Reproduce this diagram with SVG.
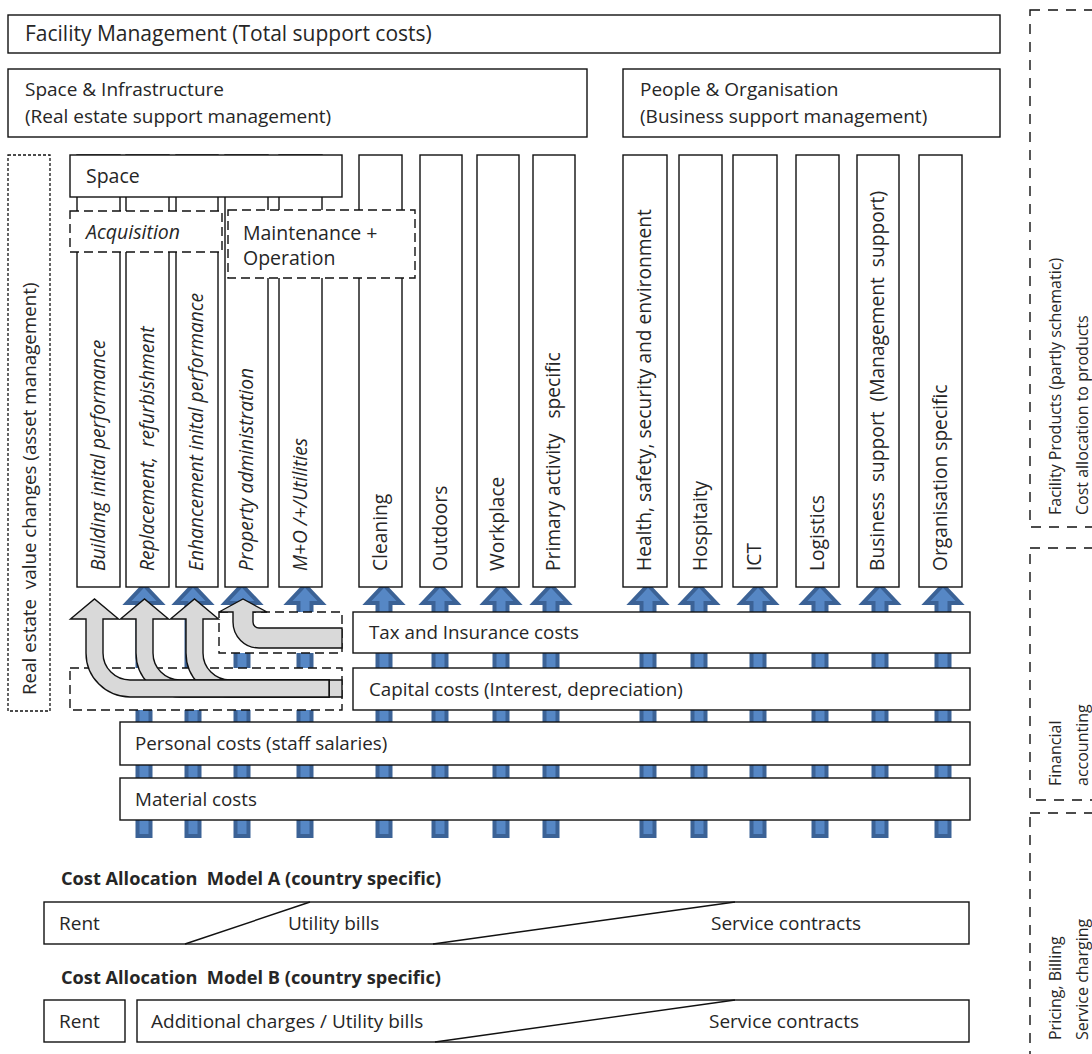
<svg xmlns="http://www.w3.org/2000/svg" width="1092" height="1054" viewBox="0 0 1092 1054">
  <defs>
    <style>
      text { font-family: "Open Sans", "Liberation Sans", sans-serif; fill: #262626; white-space: pre; }
      .box { fill: #fff; stroke: #111; stroke-width: 1.4; }
      .dash { fill: #fff; stroke: #111; stroke-width: 1.4; stroke-dasharray: 9 5; }
      .fine { fill: #fff; stroke: #111; stroke-width: 1.3; stroke-dasharray: 3 2; }
      .side { fill: none; stroke: #111; stroke-width: 1.4; stroke-dasharray: 10 8; }
      .blue { fill: #5687C5; stroke: #3B6296; stroke-width: 4; stroke-linejoin: miter; }
      .grey { fill: #D9D9D9; stroke: #111; stroke-width: 1.4; stroke-linejoin: miter; }
      .line { stroke: #111; stroke-width: 1.4; fill: none; }
      .top { font-size: 21px; }
      .t20 { font-size: 19px; }
      .t18 { font-size: 18.8px; }
      .lbl { font-size: 19.5px; }
      .col { font-size: 19.2px; }
      .it { font-style: italic; }
      .side-t { font-size: 16px; }
      .bold { font-size: 18.2px; font-weight: bold; }
      .bot { font-size: 19px; }
    </style>
  </defs>

  <!-- headline boxes -->
  <g id="facility-management">
    <rect class="box" x="8" y="15" width="992" height="38"/>
    <text class="top" x="25" y="41">Facility Management (Total support costs)</text>
  </g>
  <g id="space-infrastructure">
    <rect class="box" x="8" y="69" width="579" height="68"/>
    <text class="t20" x="25" y="96">Space &amp; Infrastructure</text>
    <text class="t20" x="25" y="123">(Real estate support management)</text>
  </g>
  <g id="people-organisation">
    <rect class="box" x="623" y="69" width="377" height="68"/>
    <text class="t20" x="640" y="96">People &amp; Organisation</text>
    <text class="t20" x="640" y="123">(Business support management)</text>
  </g>

  <!-- asset management side box -->
  <g id="real-estate-value">
    <rect class="fine" x="8" y="155" width="42" height="556"/>
    <text class="t18" transform="translate(36,695) rotate(-90)">Real estate  value changes (asset management)</text>
  </g>

  <!-- blue flow arrows (behind the cost boxes) -->
  <g id="connectors">
    <g id="blue-arrows">
      <path class="blue" d="M144 585 L161 603 L150.5 603 L150.5 836 L137.5 836 L137.5 603 L127 603 Z"/>
      <path class="blue" d="M193 585 L210 603 L199.5 603 L199.5 836 L186.5 836 L186.5 603 L176 603 Z"/>
      <path class="blue" d="M242 585 L259 603 L248.5 603 L248.5 836 L235.5 836 L235.5 603 L225 603 Z"/>
      <path class="blue" d="M305 585 L322 603 L311.5 603 L311.5 836 L298.5 836 L298.5 603 L288 603 Z"/>
      <path class="blue" d="M384 585 L401 603 L390.5 603 L390.5 836 L377.5 836 L377.5 603 L367 603 Z"/>
      <path class="blue" d="M440 585 L457 603 L446.5 603 L446.5 836 L433.5 836 L433.5 603 L423 603 Z"/>
      <path class="blue" d="M501 585 L518 603 L507.5 603 L507.5 836 L494.5 836 L494.5 603 L484 603 Z"/>
      <path class="blue" d="M551 585 L568 603 L557.5 603 L557.5 836 L544.5 836 L544.5 603 L534 603 Z"/>
      <path class="blue" d="M648 585 L665 603 L654.5 603 L654.5 836 L641.5 836 L641.5 603 L631 603 Z"/>
      <path class="blue" d="M699 585 L716 603 L705.5 603 L705.5 836 L692.5 836 L692.5 603 L682 603 Z"/>
      <path class="blue" d="M758 585 L775 603 L764.5 603 L764.5 836 L751.5 836 L751.5 603 L741 603 Z"/>
      <path class="blue" d="M820 585 L837 603 L826.5 603 L826.5 836 L813.5 836 L813.5 603 L803 603 Z"/>
      <path class="blue" d="M880 585 L897 603 L886.5 603 L886.5 836 L873.5 836 L873.5 603 L863 603 Z"/>
      <path class="blue" d="M943 585 L960 603 L949.5 603 L949.5 836 L936.5 836 L936.5 603 L926 603 Z"/>
    </g>
  </g>

  <!-- cost layers -->
  <g id="tax-insurance">
    <rect class="box" x="353" y="612" width="617" height="41"/>
    <text class="t18" x="369" y="639">Tax and Insurance costs</text>
  </g>
  <g id="capital-costs">
    <rect class="box" x="353" y="668" width="617" height="42"/>
    <text class="t18" x="369" y="696">Capital costs (Interest, depreciation)</text>
  </g>
  <g id="personal-costs">
    <rect class="box" x="120" y="722" width="850" height="43"/>
    <text class="t18" x="135" y="750">Personal costs (staff salaries)</text>
  </g>
  <g id="material-costs">
    <rect class="box" x="120" y="778" width="850" height="42"/>
    <text class="t18" x="135" y="806">Material costs</text>
  </g>

  <!-- dashed frames on the left of the cost layers -->
  <g id="tax-frame"><rect class="dash" x="219" y="612" width="123" height="41"/></g>
  <g id="capital-frame"><rect class="dash" x="70" y="668" width="272" height="42"/></g>

  <!-- grey bent arrows from capital and tax costs -->
  <g id="grey-arrows">
    <path class="grey" d="M329 680 L342 680 L342 697 L329 697"/>
    <path class="grey" d="M186 619 L186 653 A44 44 0 0 0 230 697 L329 697 L329 680 L230 680 A27 27 0 0 1 203 653 L203 619 L218.5 619 L194.5 599 L170.5 619 Z"/>
    <path class="grey" d="M136 619 L136 653 A44 44 0 0 0 180 697 L329 697 L329 680 L180 680 A27 27 0 0 1 153 653 L153 619 L168.5 619 L144.5 599 L120.5 619 Z"/>
    <path class="grey" d="M86 619 L86 653 A44 44 0 0 0 130 697 L329 697 L329 680 L130 680 A27 27 0 0 1 103 653 L103 619 L118.5 619 L94.5 599 L70.5 619 Z"/>
    <path class="grey" d="M233 612 L233 622 A26 26 0 0 0 259 648 L342 648 L342 628 L259 628 A6 6 0 0 1 253 622 L253 612 L267 612 L243 599 L219 612 Z"/>
  </g>

  <!-- product columns -->
  <g id="col-building">
    <rect class="box" x="77" y="155" width="43" height="432"/>
    <text class="col it" transform="translate(105,571) rotate(-90)">Building inital performance</text>
  </g>
  <g id="col-replacement">
    <rect class="box" x="126" y="155" width="43" height="432"/>
    <text class="col it" transform="translate(154,571) rotate(-90)">Replacement,  refurbishment</text>
  </g>
  <g id="col-enhancement">
    <rect class="box" x="176" y="155" width="42" height="432"/>
    <text class="col it" transform="translate(203,571) rotate(-90)">Enhancement inital performance</text>
  </g>
  <g id="col-property">
    <rect class="box" x="225" y="155" width="43" height="432"/>
    <text class="col it" transform="translate(253,571) rotate(-90)">Property administration</text>
  </g>
  <g id="col-mo-utilities">
    <rect class="box" x="279" y="155" width="43" height="432"/>
    <text class="col it" transform="translate(307,571) rotate(-90)">M+O /+/Utilities</text>
  </g>
  <g id="col-cleaning">
    <rect class="box" x="359" y="155" width="43" height="432"/>
    <text class="col" transform="translate(387,571) rotate(-90)">Cleaning</text>
  </g>
  <g id="col-outdoors">
    <rect class="box" x="420" y="155" width="42" height="432"/>
    <text class="col" transform="translate(447,571) rotate(-90)">Outdoors</text>
  </g>
  <g id="col-workplace">
    <rect class="box" x="477" y="155" width="42" height="432"/>
    <text class="col" transform="translate(504,571) rotate(-90)">Workplace</text>
  </g>
  <g id="col-primary">
    <rect class="box" x="533" y="155" width="42" height="432"/>
    <text class="col" transform="translate(560,571) rotate(-90)">Primary activity   specific</text>
  </g>
  <g id="col-health">
    <rect class="box" x="623" y="155" width="44" height="432"/>
    <text class="col" transform="translate(651,571) rotate(-90)">Health, safety, security and environment</text>
  </g>
  <g id="col-hospitality">
    <rect class="box" x="679" y="155" width="43" height="432"/>
    <text class="col" transform="translate(707,571) rotate(-90)">Hospitaity</text>
  </g>
  <g id="col-ict">
    <rect class="box" x="733" y="155" width="44" height="432"/>
    <text class="col" transform="translate(761,571) rotate(-90)">ICT</text>
  </g>
  <g id="col-logistics">
    <rect class="box" x="796" y="155" width="43" height="432"/>
    <text class="col" transform="translate(824,571) rotate(-90)">Logistics</text>
  </g>
  <g id="col-business">
    <rect class="box" x="857" y="155" width="42" height="432"/>
    <text class="col" transform="translate(884,571) rotate(-90)">Business  support  (Management  support)</text>
  </g>
  <g id="col-organisation">
    <rect class="box" x="919" y="155" width="43" height="432"/>
    <text class="col" transform="translate(947,571) rotate(-90)">Organisation specific</text>
  </g>

  <!-- space header and phase frames over the columns -->
  <g id="space">
    <rect class="box" x="70" y="155" width="272" height="42"/>
    <text class="lbl" x="86" y="183">Space</text>
  </g>
  <g id="acquisition">
    <rect class="dash" x="70" y="211" width="152" height="41"/>
    <text class="lbl it" x="86" y="239">Acquisition</text>
  </g>
  <g id="maintenance-operation">
    <rect class="dash" x="228" y="210" width="187" height="68"/>
    <text class="lbl" x="243" y="240">Maintenance +</text>
    <text class="lbl" x="243" y="265">Operation</text>
  </g>

  <!-- process side frames -->
  <g id="facility-products">
    <rect class="side" x="1030" y="10" width="80" height="517"/>
    <text class="side-t" transform="translate(1061,515) rotate(-90)">Facility Products (partly schematic)</text>
    <text class="side-t" transform="translate(1088,515) rotate(-90)">Cost allocation to products</text>
  </g>
  <g id="financial-accounting">
    <rect class="side" x="1030" y="548" width="80" height="252"/>
    <text class="side-t" transform="translate(1061,786) rotate(-90)">Financial</text>
    <text class="side-t" transform="translate(1088,786) rotate(-90)">accounting</text>
  </g>
  <g id="pricing-billing">
    <rect class="side" x="1030" y="813" width="80" height="260"/>
    <text class="side-t" transform="translate(1061,1040) rotate(-90)">Pricing, Billing</text>
    <text class="side-t" transform="translate(1088,1040) rotate(-90)">Service charging</text>
  </g>

  <!-- cost allocation model A -->
  <g id="model-a">
    <text class="bold" x="61" y="885">Cost Allocation  Model A (country specific)</text>
    <rect class="box" x="44" y="902" width="925" height="42"/>
    <line class="line" x1="185" y1="944" x2="310" y2="902"/>
    <line class="line" x1="433" y1="944" x2="735" y2="902"/>
    <text class="bot" x="59" y="930">Rent</text>
    <text class="bot" x="288" y="930">Utility bills</text>
    <text class="bot" x="711" y="930">Service contracts</text>
  </g>

  <!-- cost allocation model B -->
  <g id="model-b">
    <text class="bold" x="61" y="984">Cost Allocation  Model B (country specific)</text>
    <rect class="box" x="44" y="1000" width="81" height="42"/>
    <rect class="box" x="137" y="1000" width="832" height="42"/>
    <line class="line" x1="435" y1="1042" x2="735" y2="1000"/>
    <text class="bot" x="59" y="1028">Rent</text>
    <text class="bot" x="151" y="1028">Additional charges / Utility bills</text>
    <text class="bot" x="709" y="1028">Service contracts</text>
  </g>
</svg>
